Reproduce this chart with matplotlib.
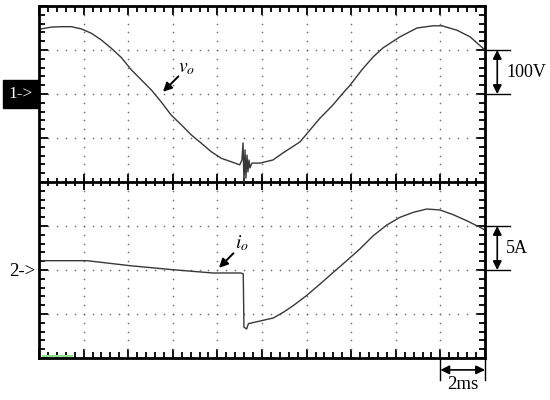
import numpy as np
import matplotlib
matplotlib.use('agg')
import matplotlib.pyplot as plt
from matplotlib.patches import Rectangle

plt.rcParams['font.family'] = 'serif'
plt.rcParams['font.serif'] = ['Liberation Serif', 'DejaVu Serif']
plt.rcParams['mathtext.fontset'] = 'stix'

# scope settings: 2 ms/div, ch1 100 V/div, ch2 5 A/div, 10 x 8 divisions
t_div = 2.0
v_div = 100.0
i_div = 5.0
ch1_pos = 2.0   # ground marker of channel 1 (divisions above centre)
ch2_pos = -2.0  # ground marker of channel 2

# output voltage v_o (ms, V)
t_v = [0.0, 0.10, 0.55, 1.00, 1.45, 1.90, 2.35, 2.79, 3.24, 3.69, 4.14, 4.59,
       5.04, 5.48, 5.93, 6.38, 6.83, 7.28, 7.72, 8.17, 8.62, 9.00,
       9.10, 9.15, 9.19, 9.24, 9.28, 9.33, 9.37, 9.42, 9.46, 9.55,
       9.91, 10.49, 10.94, 11.70, 12.15, 12.60, 13.18, 13.63,
       13.95, 14.48, 14.98, 15.43, 16.19, 16.95, 17.67, 18.07, 18.74, 19.33, 20.0]
v_o = [147, 148, 152, 153, 153, 148, 138, 123, 104, 83, 55, 32,
       9, -18, -48, -70, -93, -112, -131, -146, -154, -161,
       -150, -111, -200, -127, -191, -139, -177, -150, -168, -157,
       -157, -150, -134, -109, -82, -55, -25, 2,
       20, 55, 84, 105, 130, 150, 155, 155, 145, 130, 100]

# output current i_o (ms, A)
t_i = [0.0, 0.18, 2.15, 4.08, 6.01, 7.80, 9.01, 9.09, 9.16, 9.19, 9.31, 9.39,
       9.91, 10.51, 10.96, 11.40, 12.00, 12.60, 13.20, 13.80, 14.39, 14.99,
       15.59, 16.19, 16.78, 17.39, 17.98, 18.58, 19.18, 19.78, 20.0]
i_o = [1.06, 1.06, 1.06, 0.49, 0.03, -0.34, -0.34, -0.36, -0.45, -6.5, -6.7, -6.1,
       -5.8, -5.45, -4.8, -4.05, -2.9, -1.6, -0.26, 1.06, 2.39, 3.9,
       5.1, 5.99, 6.55, 6.93, 6.82, 6.28, 5.6, 4.85, 4.55]

fig = plt.figure(figsize=(5.5, 4), dpi=100)
ax = fig.add_axes([39/550, 42/400, 446/550, 352/400])
ax.set_xlim(0, 10*t_div)
ax.set_ylim(-4, 4)

for s in ax.spines.values():
    s.set_linewidth(2.0)

ax.set_xticks(np.arange(0, 10*t_div + 0.01, t_div))
ax.set_xticks(np.arange(0, 10*t_div + 0.01, t_div/5), minor=True)
ax.set_yticks(np.arange(-4, 4.01, 1))
ax.set_yticks(np.arange(-4, 4.01, 0.2), minor=True)
ax.tick_params(which='both', direction='in', top=True, right=True,
               labelbottom=False, labelleft=False, width=1.3)
ax.tick_params(which='major', length=6.5)
ax.tick_params(which='minor', length=4.2)

# dotted graticule
gx = np.arange(t_div, 10*t_div, t_div)
gy = [-3, -2, -1, 1, 2, 3]
dx = np.arange(0, 10*t_div + 0.01, t_div/5)
dy = np.arange(-4, 4.01, 0.2)
for y in gy:
    ax.plot(dx, np.full_like(dx, y), ls='none', marker='o', ms=1.2,
            color='0.45', mec='none')
for x in gx:
    ax.plot(np.full_like(dy, x), dy, ls='none', marker='o', ms=1.2,
            color='0.45', mec='none')

# centre axis with ticks
ax.axhline(0, color='black', lw=2.0)
ax.vlines(dx, -0.1, 0.1, color='black', lw=1.3)
ax.vlines(np.arange(0, 10*t_div + 0.01, t_div), -0.19, 0.19, color='black', lw=1.3)

# green leftover at bottom left
ax.plot([0.2, 1.5], [-3.96, -3.96], color='#8fe08f', lw=1.5)

# traces
ax.plot(t_v, ch1_pos + np.array(v_o)/v_div, color='#383838', lw=1.0)
ax.plot(t_i, ch2_pos + np.array(i_o)/i_div, color='#383838', lw=1.0)

# labels with arrows
ax.annotate('', xy=(5.56, 2.05), xytext=(6.25, 2.4),
            arrowprops=dict(arrowstyle='-|>', color='black', lw=1.4,
                            mutation_scale=13, shrinkA=0, shrinkB=0))
ax.text(6.6, 2.58, r'$v_o$', fontsize=14, ha='center', va='center')
ax.annotate('', xy=(8.07, -1.95), xytext=(8.72, -1.62),
            arrowprops=dict(arrowstyle='-|>', color='black', lw=1.4,
                            mutation_scale=13, shrinkA=0, shrinkB=0))
ax.text(9.1, -1.38, r'$i_o$', fontsize=14, ha='center', va='center')

# scale bars outside the screen
kw = dict(color='black', lw=1.0, clip_on=False)
ax.plot([20, 21.1], [3, 3], **kw)
ax.plot([20, 21.1], [2, 2], **kw)
ax.annotate('', xy=(20.55, 3), xytext=(20.55, 2), annotation_clip=False,
            arrowprops=dict(arrowstyle='<|-|>', color='black', lw=1.2,
                            mutation_scale=13, shrinkA=0, shrinkB=0))
ax.text(20.95, 2.5, '100V', fontsize=13, ha='left', va='center')

ax.plot([20, 21.1], [-1, -1], **kw)
ax.plot([20, 21.1], [-2, -2], **kw)
ax.annotate('', xy=(20.55, -1), xytext=(20.55, -2), annotation_clip=False,
            arrowprops=dict(arrowstyle='<|-|>', color='black', lw=1.2,
                            mutation_scale=13, shrinkA=0, shrinkB=0))
ax.text(20.95, -1.5, '5A', fontsize=13, ha='left', va='center')

ax.plot([18, 18], [-4, -4.5], **kw)
ax.plot([20, 20], [-4, -4.5], **kw)
ax.annotate('', xy=(18, -4.27), xytext=(20, -4.27), annotation_clip=False,
            arrowprops=dict(arrowstyle='<|-|>', color='black', lw=1.2,
                            mutation_scale=13, shrinkA=0, shrinkB=0))
ax.text(19.0, -4.42, '2ms', fontsize=13.5, ha='center', va='top')

# channel markers
fig.patches.append(Rectangle((3/550, 1 - 108/400), 35/550, 28/400,
                             transform=fig.transFigure, color='black'))
fig.text(20.5/550, 1 - 94/400, '1->', color='white', fontsize=12.5,
         ha='center', va='center')
fig.text(22/550, 1 - 271/400, '2->', color='black', fontsize=13.5,
         ha='center', va='center')

fig.savefig('out.png', dpi=100)
